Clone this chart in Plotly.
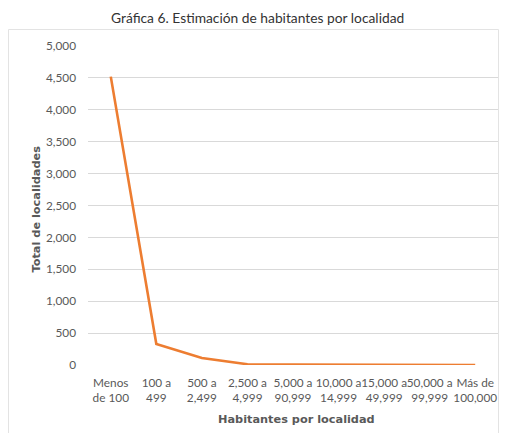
import plotly.graph_objects as go

categories = ["Menos<br>de 100", "100 a<br>499", "500 a<br>2,499", "2,500 a<br>4,999",
              "5,000 a<br>90,999", "10,000 a<br>14,999", "15,000 a<br>49,999",
              "50,000 a<br>99,999", "Más de<br>100,000"]
values = [4520, 330, 110, 12, 8, 5, 3, 2, 1]
y_ticks = [0, 500, 1000, 1500, 2000, 2500, 3000, 3500, 4000, 4500, 5000]
y_ticklabels = [f"{v:,}" for v in y_ticks]

# page body has an 8px margin: the figure is offset by 8px and kept inside the window
OFF = 8
W, H = 507 - 2 * OFF, 441 - 2 * OFF
L, R, T = 88 - OFF, 1, 46 - OFF
B = H - (365 - OFF)
pw, ph = W - L - R, H - T - B

def px(x):  # reference pixel -> paper
    return (x - OFF - L) / pw

def py(y):
    return (H - B - (y - OFF)) / ph

fig = go.Figure()
fig.add_trace(go.Scatter(
    x=categories, y=values, mode="lines",
    line=dict(color="#ED7D31", width=2.6),
    hoverinfo="x+y",
))

tick_font = dict(size=11.8, color="#595959", family="Lato, sans-serif")
title_font = dict(size=11.3, color="#595959", family="DejaVu Sans, sans-serif")

fig.update_layout(
    width=W, height=H,
    margin=dict(l=L, r=R, t=T, b=B),
    paper_bgcolor="white", plot_bgcolor="white",
    showlegend=False,
    font=dict(family="Lato, sans-serif", color="#595959", size=11),
    xaxis=dict(
        type="category", range=[-0.5, 8.5],
        showgrid=False, showline=False, zeroline=False, ticks="",
        tickfont=tick_font, tickangle=0,
        ticklabelstandoff=9,
    ),
    yaxis=dict(
        range=[0, 5000], tickvals=y_ticks, ticktext=y_ticklabels,
        showgrid=True, gridcolor="#d9d9d9", gridwidth=1,
        zeroline=False, showline=False, ticks="",
        tickfont=tick_font,
        ticklabelstandoff=11,
    ),
    shapes=[dict(
        type="rect", xref="paper", yref="paper",
        x0=px(8.5), x1=px(498.5), y0=py(440), y1=py(29.5),
        line=dict(color="#e3e3e3", width=1), fillcolor="rgba(0,0,0,0)", layer="below",
    )],
    annotations=[
        dict(text="Gráfica 6. Estimación de habitantes por localidad",
             xref="paper", yref="paper", x=px(257), y=py(18),
             xanchor="center", yanchor="middle", showarrow=False,
             font=dict(size=13.8, color="#333333", family="Lato, Open Sans, sans-serif")),
        dict(text="<b>Habitantes por localidad</b>",
             xref="paper", yref="paper", x=px(296), y=py(419),
             xanchor="center", yanchor="middle", showarrow=False,
             font=title_font),
        dict(text="<b>Total de localidades</b>",
             xref="paper", yref="paper", x=px(35.5), y=py(209),
             xanchor="center", yanchor="middle", showarrow=False, textangle=-90,
             font=title_font),
    ],
)

fig.write_html("out.html")
